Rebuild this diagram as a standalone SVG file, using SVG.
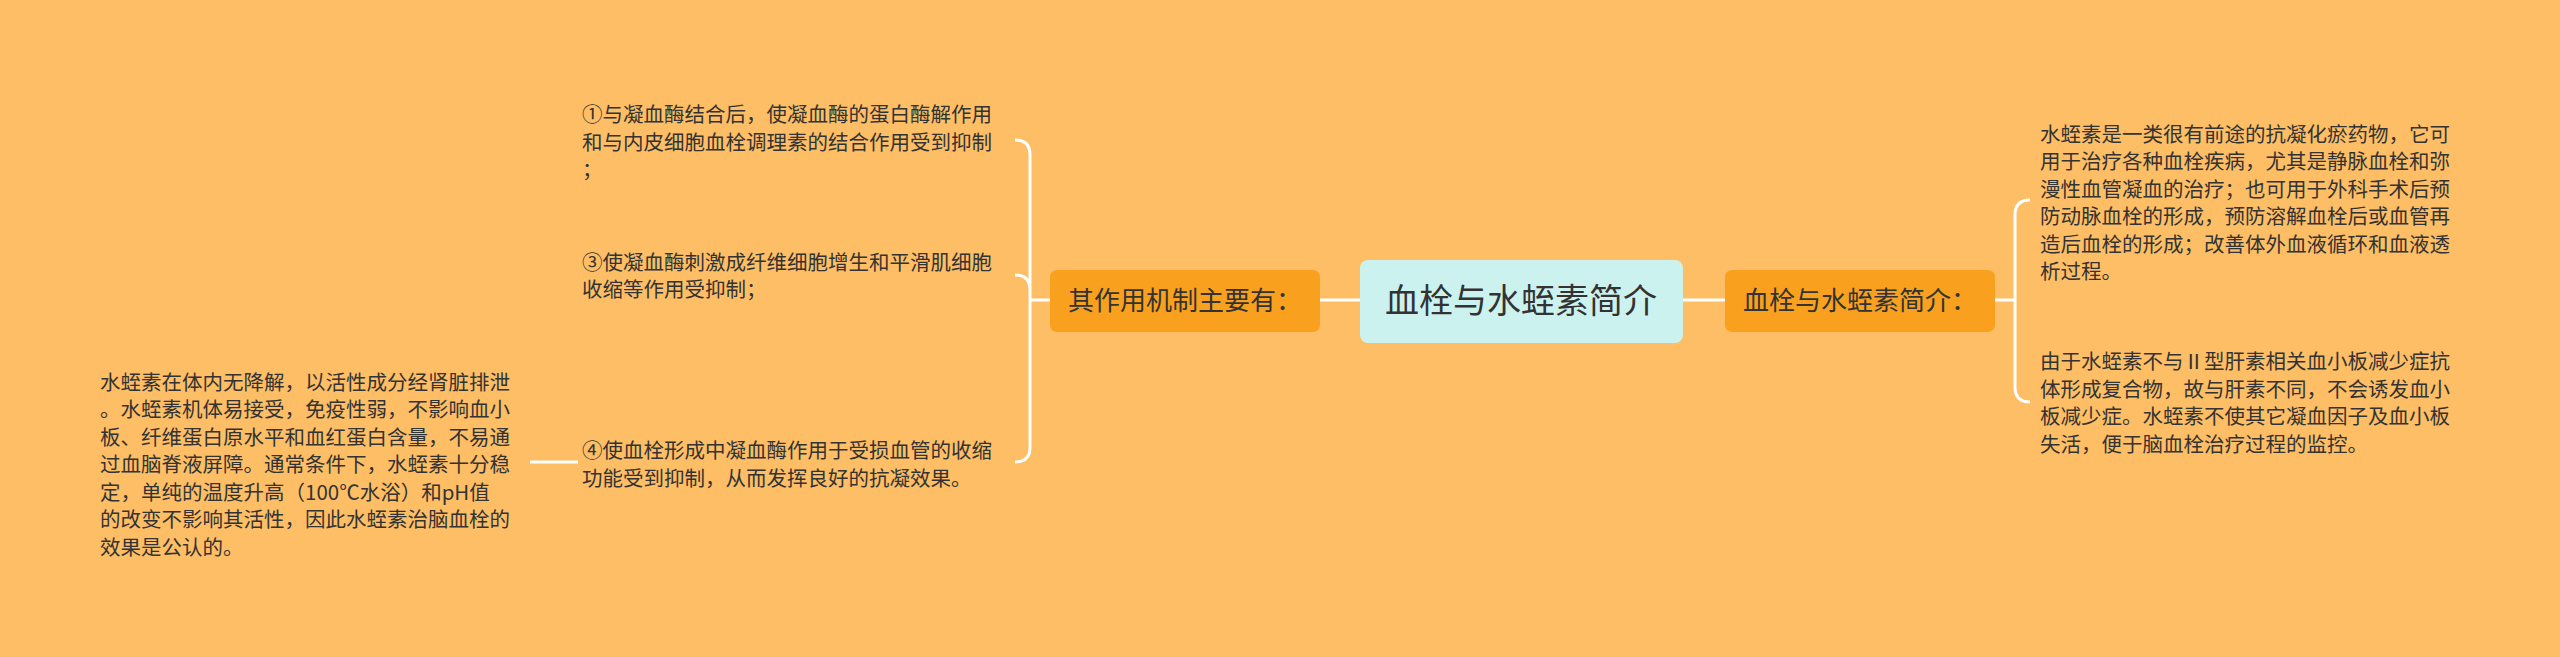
<svg xmlns="http://www.w3.org/2000/svg" width="2560" height="657" viewBox="0 0 2560 657">
<style>
.t{font-family:"Noto Sans CJK SC","Noto Sans",sans-serif;font-size:20.5px;fill:#333}
.m{font-family:"Noto Sans CJK SC","Noto Sans",sans-serif;font-size:26px;fill:#333}
.c{stroke:#fff;stroke-width:3;fill:none}
</style>
<rect width="2560" height="657" fill="#FDBE65"/>
<g id="connectors">
<path class="c" d="M1320,300H1360M1683,300H1725M1030,300H1050M1995,300H2015"/>
<path class="c" d="M1015,140Q1030,140 1030,155V447Q1030,462 1015,462M1015,275Q1030,275 1030,290"/>
<path class="c" d="M2030,200Q2015,200 2015,215V387Q2015,402 2030,402"/>
<path class="c" d="M530,462H578"/>
</g>
<g id="center"><rect x="1360" y="260" width="323" height="83" rx="8" fill="#CCF2F0"/><text x="1521" y="313" text-anchor="middle" class="m" style="font-size:34px">血栓与水蛭素简介</text></g>
<g id="left"><rect x="1050" y="270" width="270" height="62" rx="7" fill="#F9A11F"/><text x="1185" y="310" text-anchor="middle" class="m">其作用机制主要有：</text></g>
<g id="right"><rect x="1725" y="270" width="270" height="62" rx="7" fill="#F9A11F"/><text x="1860" y="310" text-anchor="middle" class="m">血栓与水蛭素简介：</text></g>
<g id="n1"><text class="t" x="582"><tspan y="122">①与凝血酶结合后，使凝血酶的蛋白酶解作用</tspan><tspan x="582" y="150">和与内皮细胞血栓调理素的结合作用受到抑制</tspan><tspan x="582" y="177">；</tspan></text></g>
<g id="n3"><text class="t" x="582"><tspan y="270">③使凝血酶刺激成纤维细胞增生和平滑肌细胞</tspan><tspan x="582" y="297">收缩等作用受抑制；</tspan></text></g>
<g id="n4"><text class="t" x="582"><tspan y="458">④使血栓形成中凝血酶作用于受损血管的收缩</tspan><tspan x="582" y="486">功能受到抑制，从而发挥良好的抗凝效果。</tspan></text></g>
<g id="leaf"><text class="t" x="100"><tspan y="390">水蛭素在体内无降解，以活性成分经肾脏排泄</tspan><tspan x="100" y="417">。水蛭素机体易接受，免疫性弱，不影响血小</tspan><tspan x="100" y="445">板、纤维蛋白原水平和血红蛋白含量，不易通</tspan><tspan x="100" y="472">过血脑脊液屏障。通常条件下，水蛭素十分稳</tspan><tspan x="100" y="500">定，单纯的温度升高（100℃水浴）和pH值</tspan><tspan x="100" y="527">的改变不影响其活性，因此水蛭素治脑血栓的</tspan><tspan x="100" y="555">效果是公认的。</tspan></text></g>
<g id="r1"><text class="t" x="2040"><tspan y="142">水蛭素是一类很有前途的抗凝化瘀药物，它可</tspan><tspan x="2040" y="169">用于治疗各种血栓疾病，尤其是静脉血栓和弥</tspan><tspan x="2040" y="197">漫性血管凝血的治疗；也可用于外科手术后预</tspan><tspan x="2040" y="224">防动脉血栓的形成，预防溶解血栓后或血管再</tspan><tspan x="2040" y="252">造后血栓的形成；改善体外血液循环和血液透</tspan><tspan x="2040" y="279">析过程。</tspan></text></g>
<g id="r2"><text class="t" x="2040"><tspan y="369">由于水蛭素不与Ⅱ型肝素相关血小板减少症抗</tspan><tspan x="2040" y="397">体形成复合物，故与肝素不同，不会诱发血小</tspan><tspan x="2040" y="424">板减少症。水蛭素不使其它凝血因子及血小板</tspan><tspan x="2040" y="452">失活，便于脑血栓治疗过程的监控。</tspan></text></g>
</svg>
